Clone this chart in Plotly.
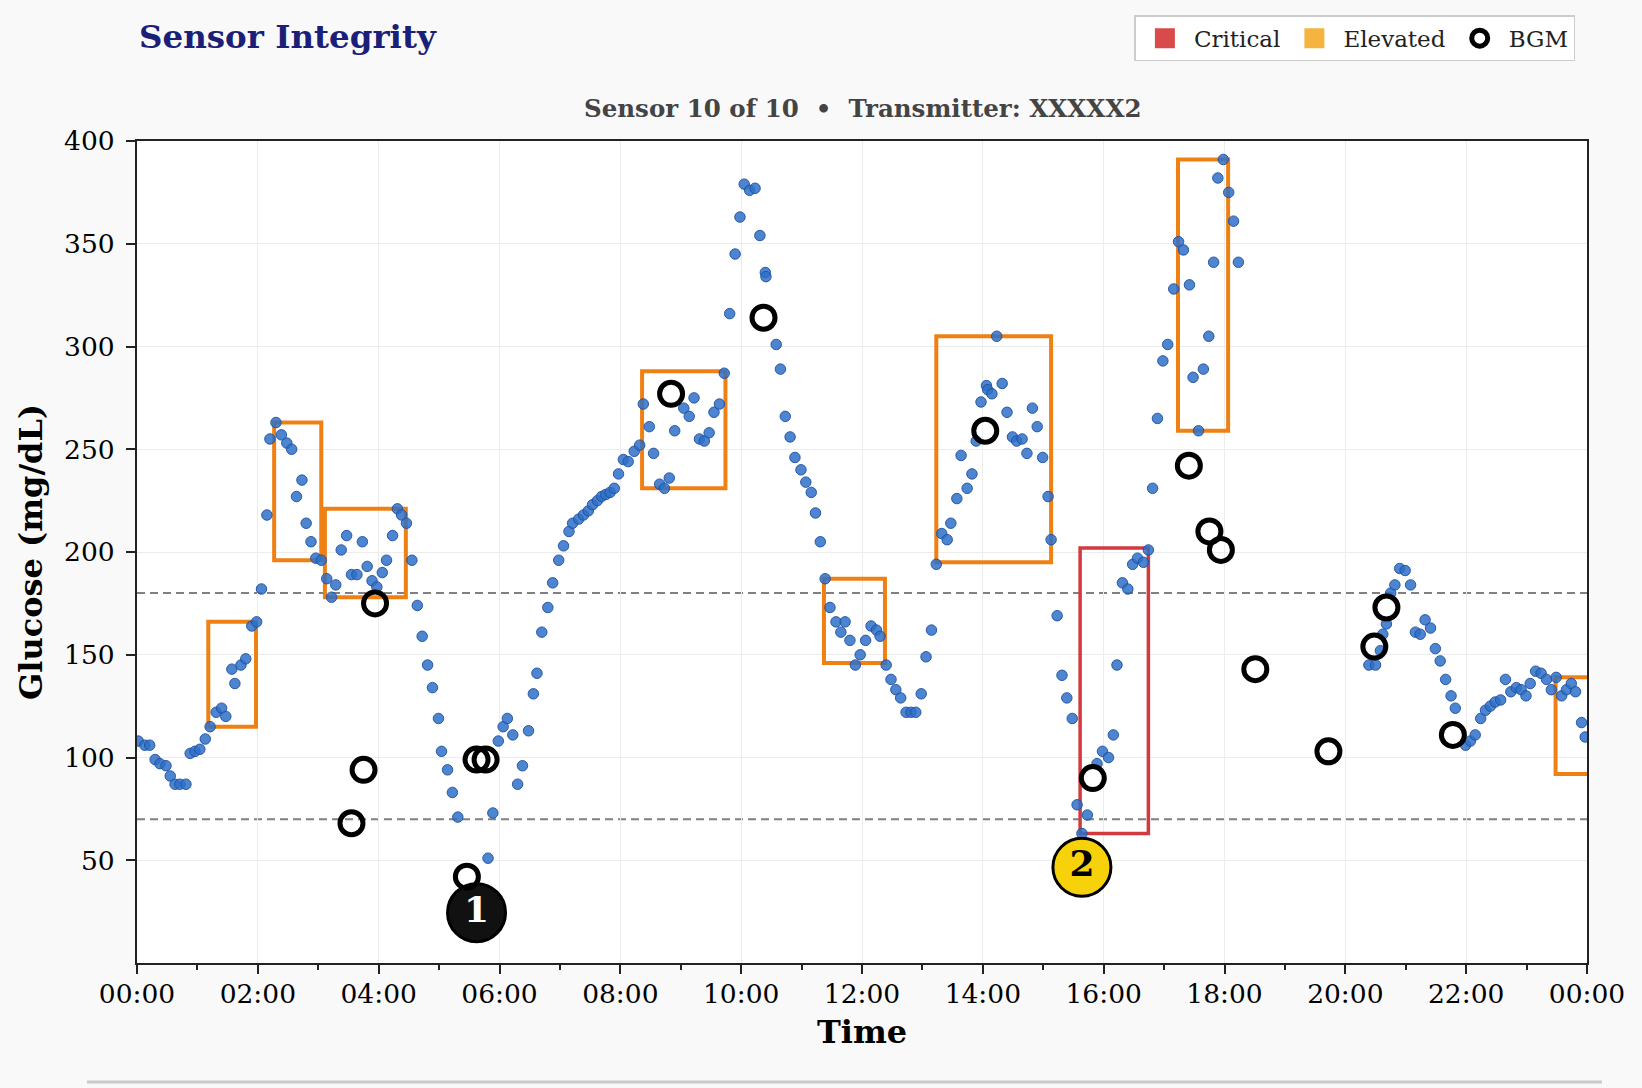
import plotly.graph_objects as go

# ---------------- data ----------------
cgm_hours = [0.02, 0.13, 0.21, 0.30, 0.38, 0.48, 0.55, 0.63, 0.71, 0.81, 0.88, 0.96, 1.04, 1.13, 1.21,
             1.31, 1.40, 1.47, 1.57, 1.62, 1.72, 1.80, 1.90, 1.98, 2.06, 2.15, 2.20, 2.30, 2.39, 2.48,
             2.56, 2.64, 2.73, 2.80, 2.88, 2.96, 3.05, 3.14, 3.22, 3.29, 3.38, 3.47, 3.55, 3.64, 3.73,
             3.81, 3.89, 3.97, 4.06, 4.13, 4.23, 4.31, 4.38, 4.46, 4.55, 4.64, 4.72, 4.81, 4.89, 4.99,
             5.04, 5.14, 5.22, 5.31, 5.81, 5.89, 5.98, 6.06, 6.13, 6.22, 6.30, 6.38, 6.48, 6.56, 6.62,
             6.70, 6.80, 6.88, 6.98, 7.06, 7.15, 7.21, 7.31, 7.39, 7.47, 7.54, 7.62, 7.69, 7.76, 7.83,
             7.90, 7.97, 8.05, 8.13, 8.23, 8.32, 8.38, 8.48, 8.55, 8.65, 8.73, 8.81, 8.90, 9.05, 9.14,
             9.22, 9.31, 9.39, 9.47, 9.55, 9.64, 9.72, 9.81, 9.90, 9.98, 10.05, 10.14, 10.23, 10.31, 10.40,
             10.41, 10.58, 10.65, 10.73, 10.81, 10.89, 10.99, 11.07, 11.16, 11.23, 11.31, 11.39, 11.47, 11.57, 11.65,
             11.72, 11.80, 11.89, 11.97, 12.06, 12.15, 12.24, 12.30, 12.40, 12.48, 12.56, 12.64, 12.73, 12.81, 12.89,
             12.98, 13.06, 13.15, 13.23, 13.32, 13.41, 13.47, 13.57, 13.64, 13.74, 13.82, 13.89, 13.97, 14.06, 14.08,
             14.15, 14.23, 14.32, 14.40, 14.49, 14.56, 14.65, 14.73, 14.82, 14.90, 14.99, 15.08, 15.13, 15.23, 15.31,
             15.39, 15.48, 15.56, 15.64, 15.73, 15.89, 15.98, 16.08, 16.16, 16.22, 16.31, 16.40, 16.48, 16.56, 16.66,
             16.74, 16.81, 16.89, 16.98, 17.06, 17.16, 17.24, 17.32, 17.42, 17.48, 17.57, 17.65, 17.74, 17.82, 17.89,
             17.98, 18.07, 18.15, 18.23, 20.39, 20.50, 20.58, 20.62, 20.68, 20.75, 20.82, 20.90, 20.99, 21.08, 21.16,
             21.24, 21.32, 21.41, 21.49, 21.57, 21.66, 21.75, 21.82, 21.99, 22.07, 22.15, 22.24, 22.32, 22.40, 22.48,
             22.57, 22.65, 22.74, 22.83, 22.91, 22.99, 23.06, 23.15, 23.24, 23.33, 23.41, 23.49, 23.58, 23.66, 23.74,
             23.81, 23.91, 23.97]
cgm_values = [108, 106, 106, 99, 97, 96, 91, 87, 87, 87, 102, 103, 104, 109, 115,
              122, 124, 120, 143, 136, 145, 148, 164, 166, 182, 218, 255, 263, 257, 253,
              250, 227, 235, 214, 205, 197, 196, 187, 178, 184, 201, 208, 189, 189, 205,
              193, 186, 183, 190, 196, 208, 221, 218, 214, 196, 174, 159, 145, 134, 119,
              103, 94, 83, 71, 51, 73, 108, 115, 119, 111, 87, 96, 113, 131, 141,
              161, 173, 185, 196, 203, 210, 214, 216, 218, 220, 223, 225, 227, 228, 229,
              231, 238, 245, 244, 249, 252, 272, 261, 248, 233, 231, 236, 259, 270, 266,
              275, 255, 254, 258, 268, 272, 287, 316, 345, 363, 379, 376, 377, 354, 336,
              334, 301, 289, 266, 256, 246, 240, 234, 229, 219, 205, 187, 173, 166, 161,
              166, 157, 145, 150, 157, 164, 162, 159, 145, 138, 133, 129, 122, 122, 122,
              131, 149, 162, 194, 209, 206, 214, 226, 247, 231, 238, 254, 273, 281, 279,
              277, 305, 282, 268, 256, 254, 255, 248, 270, 261, 246, 227, 206, 169, 140,
              129, 119, 77, 63, 72, 97, 103, 100, 111, 145, 185, 182, 194, 197, 195,
              201, 231, 265, 293, 301, 328, 351, 347, 330, 285, 259, 289, 305, 341, 382,
              391, 375, 361, 341, 145, 145, 152, 160, 165, 180, 184, 192, 191, 184, 161,
              160, 167, 163, 153, 147, 138, 130, 124, 106, 108, 111, 119, 123, 125, 127,
              128, 138, 132, 134, 133, 130, 136, 142, 141, 138, 133, 139, 130, 133, 136,
              132, 117, 110]

bgm_hours = [3.55, 3.75, 3.94, 5.46, 5.62, 5.77, 8.84, 10.37, 14.04, 15.82, 17.41, 17.75, 17.94,
             18.51, 19.72, 20.48, 20.68, 21.78]
bgm_values = [68, 94, 175, 42, 99, 99, 277, 314, 259, 90, 242, 210, 201,
              143, 103, 154, 173, 111]

# elevated (orange) and critical (red) windows: start hour, end hour, low, high
elev_x0 = [1.18, 2.27, 3.11, 8.36, 11.37, 13.23, 17.23, 23.48]
elev_x1 = [1.97, 3.05, 4.45, 9.74, 12.38, 15.13, 18.06, 24.40]
elev_y0 = [115, 196, 178, 231, 146, 195, 259, 92]
elev_y1 = [166, 263, 221, 288, 187, 305, 391, 139]

crit_x0 = [15.61]
crit_x1 = [16.74]
crit_y0 = [63]
crit_y1 = [202]

threshold_values = [70, 180]

badge_hours = [5.62, 15.64]
badge_values = [24.5, 46.6]
badge_labels = ["1", "2"]

tick_hours = list(range(0, 25, 2))
tick_labels = ["00:00", "02:00", "04:00", "06:00", "08:00", "10:00", "12:00",
               "14:00", "16:00", "18:00", "20:00", "22:00", "00:00"]
y_ticks = [50, 100, 150, 200, 250, 300, 350, 400]

# ---------------- figure ----------------
FONT = "DejaVu Serif"
ORANGE = "#ef8114"
RED = "#d23a3f"

fig = go.Figure()

# CGM points
fig.add_trace(go.Scatter(
    x=cgm_hours, y=cgm_values, mode="markers", showlegend=False,
    marker=dict(size=10.5, color="rgba(46,112,200,0.85)",
                line=dict(width=1, color="rgba(30,80,160,0.9)")),
    hoverinfo="x+y"))

# legend swatches
fig.add_trace(go.Scatter(x=[None], y=[None], mode="markers", name="Critical",
                         marker=dict(symbol="square", size=16, color="#d94b4b",
                                     line=dict(width=4, color="#d94b4b"))))
fig.add_trace(go.Scatter(x=[None], y=[None], mode="markers", name="Elevated",
                         marker=dict(symbol="square", size=16, color="#f4b43f",
                                     line=dict(width=4, color="#f4b43f"))))

# badges
fig.add_trace(go.Scatter(
    x=badge_hours, y=badge_values, mode="markers+text", showlegend=False,
    text=badge_labels, textposition="middle center",
    textfont=dict(family=FONT, size=36, color=["white", "black"], weight="bold"),
    marker=dict(size=58, color=["#111111", "#f7d10a"],
                line=dict(width=3, color="black")),
    hoverinfo="skip"))

# BGM
fig.add_trace(go.Scatter(
    x=bgm_hours, y=bgm_values, mode="markers", name="BGM",
    marker=dict(symbol="circle-open", size=23, color="black",
                line=dict(width=5, color="black"))))

shapes = []
for x0, x1, y0, y1 in zip(elev_x0, elev_x1, elev_y0, elev_y1):
    shapes.append(dict(type="rect", xref="x", yref="y", x0=x0, x1=x1, y0=y0, y1=y1,
                       line=dict(color=ORANGE, width=4), layer="between"))
for x0, x1, y0, y1 in zip(crit_x0, crit_x1, crit_y0, crit_y1):
    shapes.append(dict(type="rect", xref="x", yref="y", x0=x0, x1=x1, y0=y0, y1=y1,
                       line=dict(color=RED, width=3.5), layer="between"))
for v in threshold_values:
    shapes.append(dict(type="line", xref="paper", yref="y", x0=0, x1=1, y0=v, y1=v,
                       line=dict(color="#808080", width=2, dash="8px,5px"), layer="between"))
# bottom separator
shapes.append(dict(type="line", xref="paper", yref="paper", x0=-0.0345, x1=1.0103,
                   y0=-0.1448, y1=-0.1448, line=dict(color="#c9c9c9", width=3)))

fig.update_layout(
    width=1642, height=1088,
    margin=dict(l=137, r=55, t=141, b=125),
    paper_bgcolor="#f9f9f9", plot_bgcolor="white",
    font=dict(family=FONT, color="black", size=24),
    shapes=shapes,
    showlegend=True,
    legend=dict(orientation="h", x=0.992, xanchor="right", y=1.153, yanchor="top",
                bgcolor="white", bordercolor="#cccccc", borderwidth=1.5,
                itemwidth=48,
                font=dict(family=FONT, size=23, color="#222222")),
    annotations=[
        dict(text="<b>Sensor Integrity</b>", xref="paper", yref="paper", x=0, y=1.1275,
             xanchor="left", yanchor="middle", showarrow=False,
             font=dict(family=FONT, size=32.5, color="#1c1f78")),
        dict(text="<b>Sensor 10 of 10  •  Transmitter: XXXXX2</b>", xref="paper", yref="paper",
             x=0.5, y=1.040, xanchor="center", yanchor="middle", showarrow=False,
             font=dict(family=FONT, size=24.5, color="#444444")),
    ],
)

fig.update_xaxes(
    range=[0, 24], tickvals=tick_hours, ticktext=tick_labels,
    showline=True, linecolor="#222222", linewidth=2, mirror=True,
    ticks="outside", ticklen=9, tickwidth=2, tickcolor="#222222",
    ticklabelstandoff=-3,
    minor=dict(dtick=1, tick0=0, ticks="outside", ticklen=5, tickwidth=1.5, tickcolor="#222222",
               showgrid=False),
    showgrid=True, gridcolor="#ececec", gridwidth=1, zeroline=False,
    tickfont=dict(family=FONT, size=26.5, color="black"),
    title=dict(text="<b>Time</b>", font=dict(family=FONT, size=32, color="black"), standoff=13),
)
fig.update_yaxes(
    range=[0, 400], tickvals=y_ticks,
    showline=True, linecolor="#222222", linewidth=2, mirror=True,
    ticks="outside", ticklen=9, tickwidth=2, tickcolor="#222222",
    ticklabelstandoff=6,
    showgrid=True, gridcolor="#ececec", gridwidth=1, zeroline=False,
    tickfont=dict(family=FONT, size=26.5, color="black"),
    title=dict(text="<b>Glucose (mg/dL)</b>", font=dict(family=FONT, size=32, color="black"), standoff=12),
)

fig.write_html("out.html")
